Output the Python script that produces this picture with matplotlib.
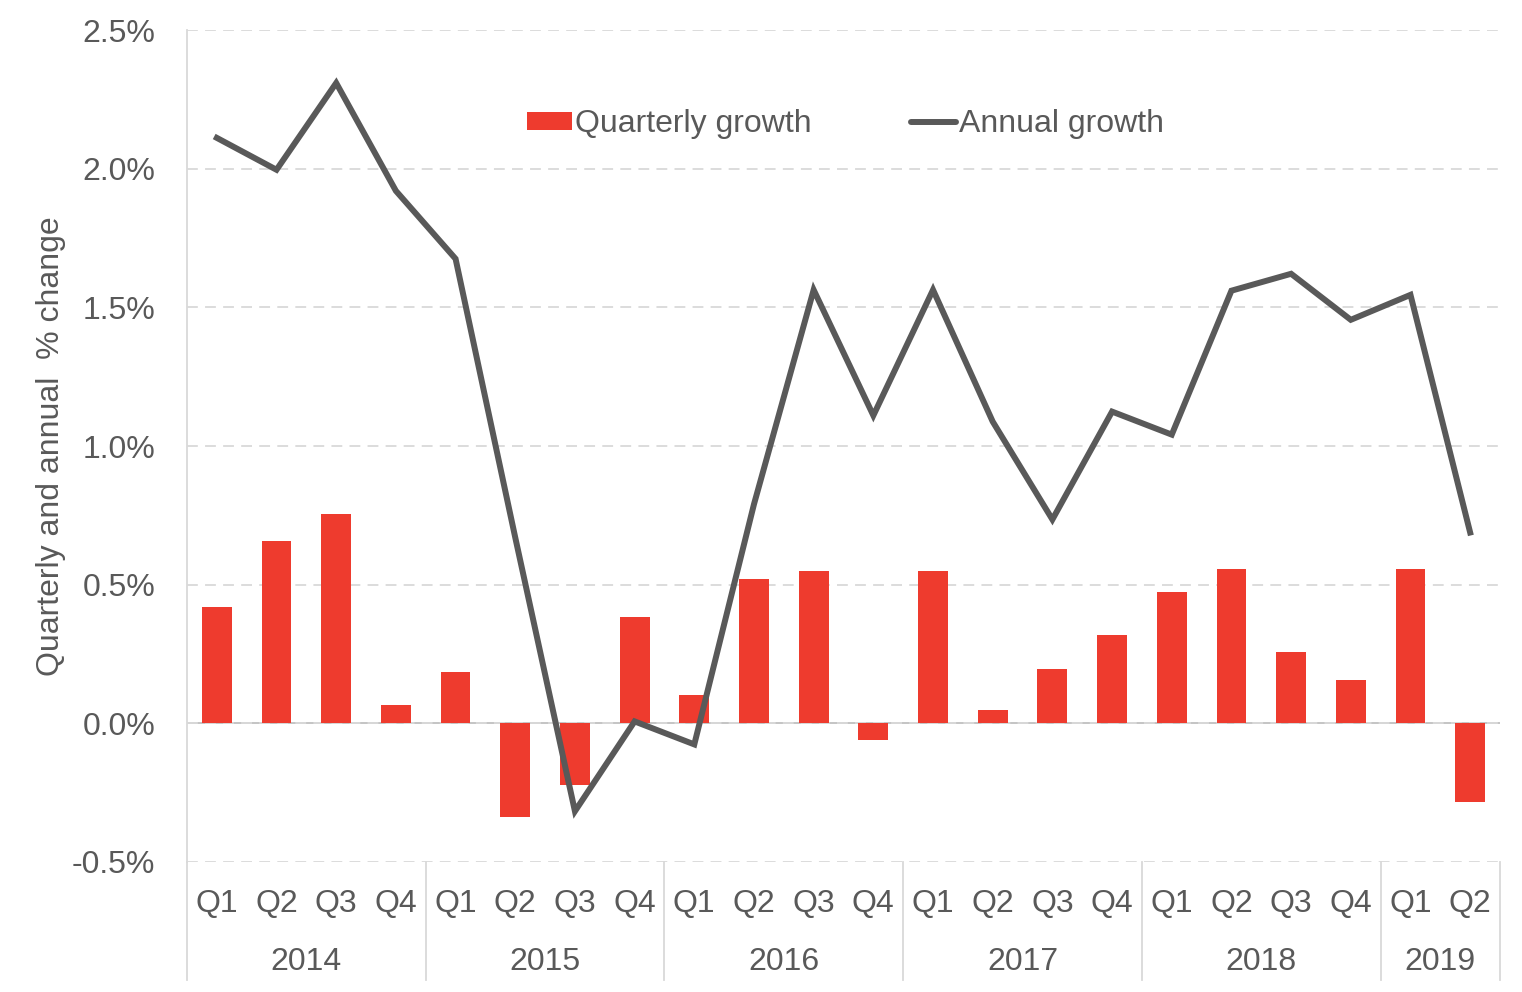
import matplotlib.pyplot as plt
from matplotlib.ticker import FuncFormatter
from matplotlib.lines import Line2D
from matplotlib.patches import Patch

plt.rcParams['font.family'] = ['Liberation Sans', 'DejaVu Sans']

# ---- data ----
years = ["2014", "2015", "2016", "2017", "2018", "2019"]
quarters_per_year = [4, 4, 4, 4, 4, 2]
quarter_labels = ["Q1", "Q2", "Q3", "Q4"] * 5 + ["Q1", "Q2"]

quarterly_growth = [0.418, 0.656, 0.756, 0.065,
                    0.184, -0.339, -0.223, 0.382,
                    0.101, 0.519, 0.548, -0.061,
                    0.548, 0.047, 0.195, 0.317,
                    0.472, 0.555, 0.256, 0.158,
                    0.555, -0.285]

annual_growth = [2.111, 1.996, 2.309, 1.920,
                 1.675, 0.670, -0.317, 0.007,
                 -0.076, 0.790, 1.563, 1.110,
                 1.563, 1.088, 0.735, 1.124,
                 1.041, 1.560, 1.621, 1.455,
                 1.545, 0.688]

bar_color = "#EE3B2E"
line_color = "#595959"
text_color = "#595959"
fs = 23

fig = plt.figure(figsize=(15.22, 9.92), dpi=100)
ax = fig.add_axes([187 / 1522, 1 - 862 / 992, (1500 - 187) / 1522, (862 - 30) / 992])

x = list(range(len(quarter_labels)))

ax.bar(x, quarterly_growth, width=0.5, color=bar_color, zorder=2)
ax.plot(x, annual_growth, color=line_color, linewidth=4.3,
        solid_joinstyle="miter", zorder=3)

ax.set_xlim(-0.5, len(x) - 0.5)
ax.set_ylim(-0.5, 2.5)
ax.set_yticks([-0.5, 0.0, 0.5, 1.0, 1.5, 2.0, 2.5])
ax.yaxis.set_major_formatter(FuncFormatter(lambda v, p: f"{v:.1f}%"))
ax.tick_params(axis="y", length=0, labelsize=fs, labelcolor=text_color, pad=23)
ax.set_xticks([])

ax.grid(axis="y", color="#D9D9D9", linestyle=(0, (6, 4)), linewidth=1.3, zorder=0)
ax.axhline(0, color="#BFBFBF", linewidth=1.3, zorder=1)

for side in ["top", "right", "bottom"]:
    ax.spines[side].set_visible(False)
ax.spines["left"].set_color("#D9D9D9")
ax.spines["left"].set_linewidth(1.3)

ax.set_ylabel("Quarterly and annual  % change", fontsize=fs, color=text_color, labelpad=4)

# ---- category axis: quarters and years ----
trans = ax.get_xaxis_transform()
for i, q in enumerate(quarter_labels):
    ax.text(i, -0.05, q, transform=trans, ha="center", va="center",
            fontsize=fs, color=text_color)

start = 0
bounds = [-0.5]
for yr, n in zip(years, quarters_per_year):
    center = start + (n - 1) / 2
    ax.text(center, -0.12, yr, transform=trans, ha="center", va="center",
            fontsize=fs, color=text_color)
    start += n
    bounds.append(start - 0.5)

for b in bounds:
    ax.add_line(Line2D([b, b], [0, -0.142], transform=trans, color="#D9D9D9",
                       linewidth=1.3, clip_on=False))

# ---- legend ----
handles = [Patch(facecolor=bar_color, edgecolor="none"),
           Line2D([], [], color=line_color, linewidth=4.3, solid_capstyle="round")]
leg = ax.legend(handles, ["Quarterly growth", "Annual growth"],
                loc="center", bbox_to_anchor=(0.5015, 0.887), ncol=2, frameon=False,
                fontsize=fs, handlelength=1.4, handleheight=0.5,
                handletextpad=0.1, columnspacing=3.1)
for t in leg.get_texts():
    t.set_color(text_color)

fig.savefig("out.png", dpi=100)
